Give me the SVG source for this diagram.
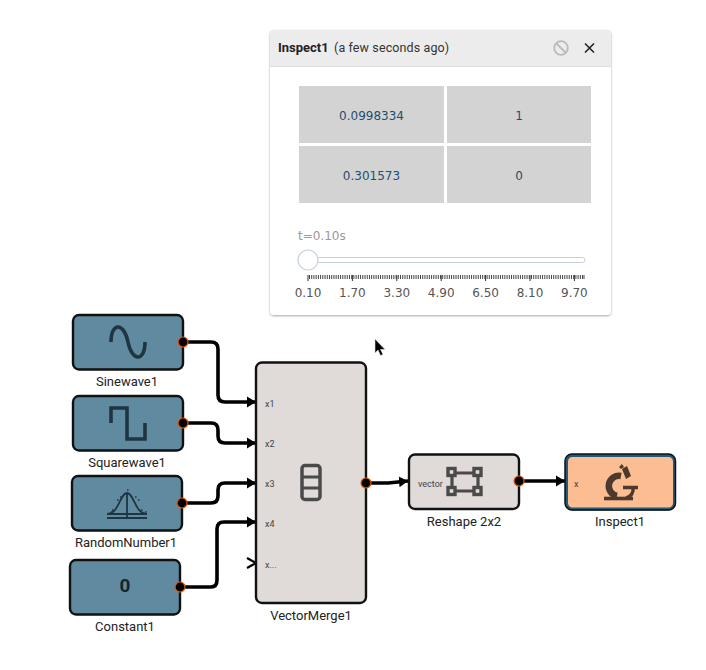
<svg xmlns="http://www.w3.org/2000/svg" width="706" height="670" viewBox="0 0 706 670">
<style>
.lbl{font:13px Roboto,"Liberation Sans",sans-serif;fill:#222;text-anchor:middle}
.port{font:9px Roboto,"Liberation Sans",sans-serif;fill:#444}
.blk{stroke:#111;stroke-width:2.4;fill:#5f8a9f}
.gry{stroke:#111;stroke-width:2.4;fill:#e0dbd9}
.dot{fill:#000;stroke:#e8590c;stroke-width:1.2}
.ic{fill:none;stroke:#1f3542;stroke-width:3.6}
.ig{fill:none;stroke:#4a4a4a}
.wire{fill:none;stroke:#000;stroke-width:3.6;marker-end:url(#a)}
.cell{fill:#d3d3d3}
.val{font:12px "DejaVu Sans",sans-serif;fill:#1f4e6e;text-anchor:middle}
.tk{font:12px "DejaVu Sans",sans-serif;fill:#555;text-anchor:middle}
</style>
<defs>
<marker id="a" markerUnits="userSpaceOnUse" markerWidth="10" markerHeight="12" refX="9" refY="6" orient="auto"><path d="M0 0.5L9 6L0 11.5Z" fill="#000"/></marker>
<filter id="sh" x="-5%" y="-5%" width="110%" height="110%"><feDropShadow dx="0" dy="1" stdDeviation="1" flood-color="#000" flood-opacity=".35"/></filter>
</defs>
<g id="connectors">
<path class="wire" d="M183 342H211Q218 342 218 349V395Q218 402 225 402H256"/>
<path class="wire" d="M183 423H211Q218 423 218 430V436Q218 443 225 443H256"/>
<path class="wire" d="M182 503H211Q218 503 218 496V490Q218 483 225 483H256"/>
<path class="wire" d="M180 587H211Q217 587 217 580V529Q217 522 224 522H256"/>
<path class="wire" d="M366 483H388L408 481"/>
<path class="wire" d="M519 481H565"/>
<path d="M247 558L256 563L247 568" fill="none" stroke="#000" stroke-width="2.2"/>
</g>
<g id="sinewave1">
<rect class="blk" x="73" y="315" width="110" height="54.500" rx="6"/>
<path class="ic" d="M111 342C111 322 124 322 128 342C132 362 145 362 145 342"/>
<circle class="dot" cx="183" cy="342" r="5"/>
<text class="lbl" x="127" y="386">Sinewave1</text>
</g>
<g id="squarewave1">
<rect class="blk" x="73" y="396" width="110" height="54.500" rx="6"/>
<path class="ic" d="M111 423V408H127V439H145V423"/>
<circle class="dot" cx="183" cy="423" r="5"/>
<text class="lbl" x="127" y="467">Squarewave1</text>
</g>
<g id="randomnumber1">
<rect class="blk" x="72" y="476" width="110" height="54.500" rx="6"/>
<path d="M107 514C119 514 120 493 127 493C134 493 135 514 147 514M127 493V517M107 514H147M107 518H147" fill="none" stroke="#1f3542" stroke-width="1.800"/>
<path d="M112 510h2M117 500h2M120 497h2M127 490h2M135 497h2M138 500h2M141 510h2M145 512h2M111 512h2" stroke="#1f3542" stroke-width="1.500" stroke-dasharray="1.500 1"/>
<circle class="dot" cx="182" cy="503" r="5"/>
<text class="lbl" x="126" y="547">RandomNumber1</text>
</g>
<g id="constant1">
<rect class="blk" x="70" y="560" width="110" height="54.500" rx="6"/>
<text x="125" y="592" text-anchor="middle" font-family="Roboto,sans-serif" font-weight="700" font-size="19" fill="#16252e">0</text>
<circle class="dot" cx="180" cy="587" r="5"/>
<text class="lbl" x="125" y="631">Constant1</text>
</g>
<g id="vectormerge1">
<rect class="gry" x="256" y="362.500" width="110" height="240.500" rx="6"/>
<text class="port" x="265" y="407">x1</text>
<text class="port" x="265" y="447">x2</text>
<text class="port" x="265" y="487">x3</text>
<text class="port" x="265" y="527">x4</text>
<text class="port" x="265" y="568">x...</text>
<rect class="ig" x="302" y="465.500" width="18" height="34" rx="3" stroke-width="3.500"/>
<path class="ig" d="M302 477H320M302 488H320" stroke-width="3"/>
<circle class="dot" cx="366" cy="483" r="5"/>
<text class="lbl" x="311" y="620">VectorMerge1</text>
</g>
<g id="reshape">
<rect class="gry" x="409" y="454.500" width="110" height="54.500" rx="6"/>
<text class="port" x="418" y="487">vector</text>
<path d="M452 473H478M452 491H478M452 473V491M478 473V491" fill="none" stroke="#4a4a4a" stroke-width="3.200"/>
<g fill="#e0dbd9" stroke="#4a4a4a" stroke-width="3.400"><rect x="448" y="468.500" width="7" height="7"/><rect x="474" y="468.500" width="7" height="7"/><rect x="448" y="487.500" width="7" height="7"/><rect x="474" y="487.500" width="7" height="7"/></g>
<circle class="dot" cx="519" cy="481" r="5"/>
<text class="lbl" x="464" y="526">Reshape 2x2</text>
</g>
<g id="inspect1">
<rect x="566.500" y="455.500" width="108" height="53.500" rx="6" fill="#fdbd93" stroke="#1f5a78" stroke-width="3"/>
<rect x="565" y="454" width="110.500" height="56" rx="7" fill="none" stroke="#111" stroke-width="1.500"/>
<text class="port" x="574" y="487">x</text>
<path d="M621 476A9.800 9.800 0 1 0 617 496" fill="none" stroke="#4e3a2d" stroke-width="6.500"/>
<path d="M623 487.500H638M633 487.500A9 9 0 0 1 626 498" fill="none" stroke="#4e3a2d" stroke-width="3.500"/>
<path d="M604 498.500H633" stroke="#4e3a2d" stroke-width="3.600"/>
<path d="M622 469L627 466L631 476L626 479ZM619 467L622 464L624 467L621 469Z" fill="#4e3a2d"/>
<text class="lbl" x="620" y="526">Inspect1</text>
</g>
<g id="inspect-panel">
<rect x="270" y="30" width="341" height="285" rx="4" fill="#fff" filter="url(#sh)"/>
<path d="M270 66V34Q270 30 274 30H607Q611 30 611 34V66Z" fill="#ececec"/>
<path d="M270 66.500H611" stroke="#ddd"/>
<text x="278" y="52" font-family="Roboto,sans-serif" font-size="13" font-weight="700" fill="#222">Inspect1</text>
<text x="334" y="52" font-family="Roboto,sans-serif" font-size="12.500" letter-spacing=".12" fill="#333">(a few seconds ago)</text>
<circle cx="561" cy="48" r="6.800" fill="none" stroke="#bbb" stroke-width="1.800"/>
<path d="M556 43L566 53" stroke="#bbb" stroke-width="1.800"/>
<path d="M585 43.500L594 52.500M594 43.500L585 52.500" stroke="#222" stroke-width="1.600"/>
<rect class="cell" x="299" y="86" width="145" height="57"/>
<rect class="cell" x="447" y="86" width="144" height="57"/>
<rect class="cell" x="299" y="146" width="145" height="57"/>
<rect class="cell" x="447" y="146" width="144" height="57"/>
<text class="val" x="371.500" y="120">0.0998334</text>
<text class="val" x="519" y="120">1</text>
<text class="val" x="371.500" y="180">0.301573</text>
<text class="val" x="519" y="180">0</text>
<text x="298" y="240" font-family="DejaVu Sans,sans-serif" font-size="12" fill="#999">t=0.10s</text>
<rect x="312" y="257.500" width="273" height="5" rx="2.500" fill="#fff" stroke="#c5cfe0"/>
<circle cx="308" cy="260" r="10" fill="#fff" stroke="#c5cfe0" stroke-width="1.200"/>
<path d="M308 275V281M352.400 275V281M396.800 275V281M441.200 275V281M485.600 275V281M530 275V281M574.400 275V281" stroke="#333"/>
<path d="M584 275V279" stroke="#888" stroke-width="1.500"/>
<path d="M309 277H584" stroke="#444" stroke-width="4" stroke-dasharray="1 1.220"/>
<text class="tk" x="308" y="297">0.10</text>
<text class="tk" x="352.400" y="297">1.70</text>
<text class="tk" x="396.800" y="297">3.30</text>
<text class="tk" x="441.200" y="297">4.90</text>
<text class="tk" x="485.600" y="297">6.50</text>
<text class="tk" x="530" y="297">8.10</text>
<text class="tk" x="574.400" y="297">9.70</text>
</g>
<path id="cursor" d="M375 339V353L378 350L380.500 355.500L383 354.500L380.500 349.500H385Z" fill="#000" stroke="#ddd" stroke-width=".6"/>
</svg>
